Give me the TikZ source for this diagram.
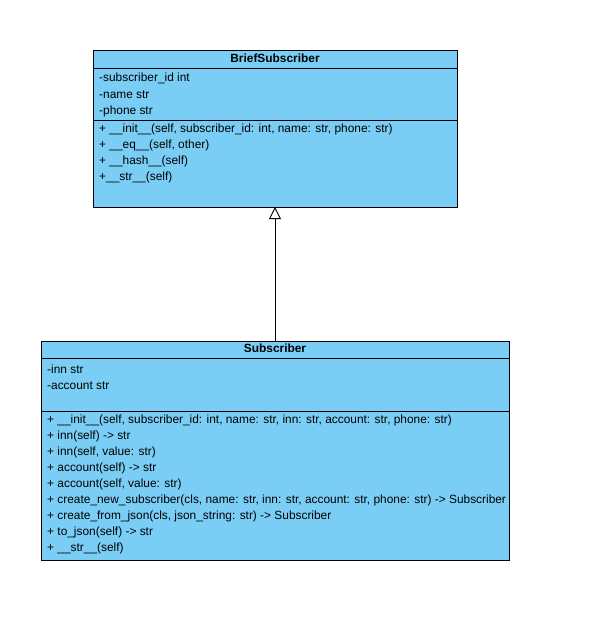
\documentclass[tikz,border=0pt]{standalone}
\usepackage{fontspec}
\setmainfont{Liberation Sans}
\usetikzlibrary{arrows.meta}
\definecolor{umlfill}{RGB}{122,206,245}
\begin{document}
\begin{tikzpicture}[x=1pt,y=-1pt,
  box/.style={draw=black,fill=umlfill,line width=0.9pt,inner sep=0pt,outer sep=0pt,anchor=north west},
  hdr/.style={font=\fontsize{11.9}{14}\selectfont\bfseries,inner sep=0pt,anchor=center,text height=8.6pt,text depth=2.5pt},
  txt/.style={font=\fontsize{11.9}{14}\selectfont,inner sep=0pt,anchor=west,text height=8.6pt,text depth=2.5pt,yshift=-1.3pt},
  sep/.style={line width=0.9pt}]
\useasboundingbox (0,0) rectangle (592,628);
% BriefSubscriber
\node[box,minimum width=364pt,minimum height=157pt] (brief) at (93,50) {};
\draw[sep] (93,68) -- (457,68);
\draw[sep] (93,120) -- (457,120);
\node[hdr] (bt) at (275,59) {BriefSubscriber};
\node[txt] (b1) at (99,77) {-subscriber\_id int};
\node[txt] (b2) at (99,94) {-name str};
\node[txt] (b3) at (99,110) {-phone str};
\node[txt] (b4) at (99,128) {+ \_\_init\_\_(self, subscriber\_id: int, name: str, phone: str)};
\node[txt] (b5) at (99,144) {+ \_\_eq\_\_(self, other)};
\node[txt] (b6) at (99,160) {+ \_\_hash\_\_(self)};
\node[txt] (b7) at (99,176) {+\_\_str\_\_(self)};
% Subscriber
\node[box,minimum width=468pt,minimum height=219pt] (sub) at (41,341) {};
\draw[sep] (41,358) -- (509,358);
\draw[sep] (41,411) -- (509,411);
\node[hdr] (st) at (275,349.5) {Subscriber};
\node[txt] (s1) at (47,369) {-inn str};
\node[txt] (s2) at (47,385) {-account str};
\node[txt] (m1) at (47,419) {+ \_\_init\_\_(self, subscriber\_id: int, name: str, inn: str, account: str, phone: str)};
\node[txt] (m2) at (47,435) {+ inn(self) -> str};
\node[txt] (m3) at (47,451) {+ inn(self, value: str)};
\node[txt] (m4) at (47,467) {+ account(self) -> str};
\node[txt] (m5) at (47,483) {+ account(self, value: str)};
\node[txt] (m6) at (47,499) {+ create\_new\_subscriber(cls, name: str, inn: str, account: str, phone: str) -> Subscriber};
\node[txt] (m7) at (47,515) {+ create\_from\_json(cls, json\_string: str) -> Subscriber};
\node[txt] (m8) at (47,531) {+ to\_json(self) -> str};
\node[txt] (m9) at (47,547) {+ \_\_str\_\_(self)};
% inheritance
\draw[line width=0.9pt,-{Triangle[open,width=12pt,length=12pt]}] (sub.north -| brief.south) -- (brief.south);
\end{tikzpicture}
\end{document}
